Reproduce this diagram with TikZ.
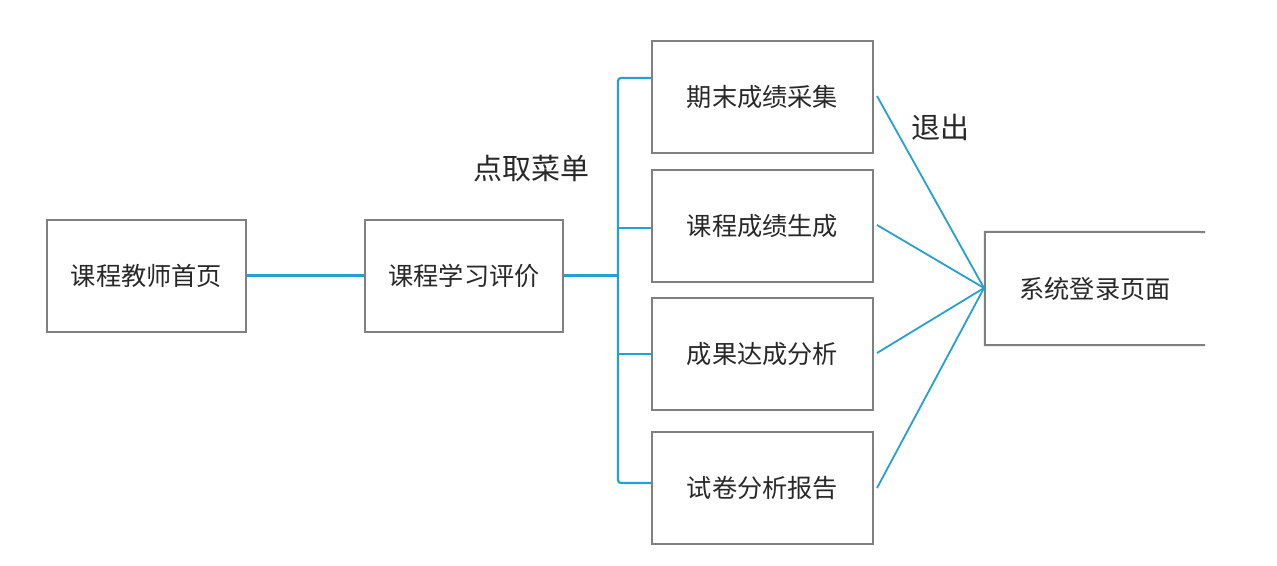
\documentclass[tikz,border=0pt]{standalone}
\usepackage{fontspec}
\newfontfamily\cjk{Noto Sans CJK SC}
\definecolor{boxgray}{RGB}{128,128,128}
\definecolor{linkblue}{RGB}{38,160,208}
\definecolor{txtgray}{RGB}{40,40,40}
\begin{document}
\begin{tikzpicture}[x=1pt,y=-1pt,
  box/.style={draw=boxgray,line width=2pt,rectangle,inner sep=0pt,
    minimum width=#1,minimum height=112pt,font=\cjk\fontsize{25.2}{28}\selectfont,text=txtgray},
  openbox/.style={rectangle,inner sep=0pt,minimum width=220pt,minimum height=113pt,
    font=\cjk\fontsize{25.2}{28}\selectfont,text=txtgray},
  conn/.style={draw=linkblue,line width=2.2pt},
  lbl/.style={font=\cjk\fontsize{29}{32}\selectfont,text=txtgray,inner sep=0pt}]
\useasboundingbox (0,0) rectangle (1277,565);
\node[box=199pt] (home) at (146.5,275.5) {\raisebox{-1pt}{课程教师首页}};
\node[box=198pt] (eval) at (464,275.5) {\raisebox{-1pt}{课程学习评价}};
\node[box=221pt] (m1) at (762.5,96.5) {期末成绩采集};
\node[box=221pt] (m2) at (762.5,226) {课程成绩生成};
\node[box=221pt] (m3) at (762.5,354) {成果达成分析};
\node[box=221pt] (m4) at (762.5,488) {试卷分析报告};
\node[openbox] (sys) at (1095,288.5) {系统登录页面};
\draw[draw=boxgray,line width=2pt] (1205,232) -- (sys.north west) -- (sys.south west) -- (1205,345);
\node[lbl] (menu) at (531,168) {点取菜单};
\node[lbl] (quit) at (940,127) {退出};
\coordinate (busT) at (618,78);
\coordinate (busB) at (618,483);
\draw[conn] (home.east) -- (eval.east -| home.east) -- (eval.west);
\draw[conn] (eval.east) -- (busT |- eval.east);
\draw[conn,rounded corners=3pt] (m1.west |- busT) -- (busT) -- (busB) -- (m4.west |- busB);
\draw[conn] (busT |- 0,228) -- (m2.west |- 0,228);
\draw[conn] (busT |- 0,354) -- (m3.west |- 0,354);
\coordinate (hub) at (984,288);
\draw[conn,line width=1.8pt] ([xshift=3pt,yshift=0.5pt]m1.east) -- (hub);
\draw[conn,line width=1.8pt] ([xshift=3pt,yshift=1pt]m2.east) -- (hub);
\draw[conn,line width=1.8pt] ([xshift=3pt,yshift=1pt]m3.east) -- (hub);
\draw[conn,line width=1.8pt] ([xshift=3pt]m4.east) -- (hub);
\end{tikzpicture}
\end{document}
